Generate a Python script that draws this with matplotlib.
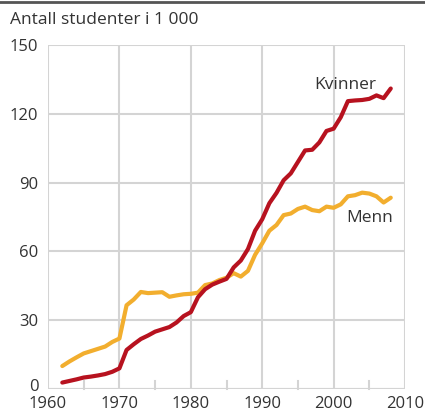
import numpy as np
import matplotlib.pyplot as plt
import matplotlib.transforms as mtransforms
from matplotlib.lines import Line2D

plt.rcParams['font.family'] = ['Open Sans', 'DejaVu Sans']

years = np.arange(1962, 2009)
kvinner = [2.8, 3.5, 4.2, 5.0, 5.4, 5.9, 6.5, 7.5, 9.0, 17.0,
           19.5, 21.8, 23.3, 25.0, 26.0, 27.0, 29.0, 31.8, 33.5, 40.0,
           43.5, 45.5, 46.8, 48.0, 53.0, 56.0, 61.0, 69.0, 74.0, 81.0,
           85.5, 91.0, 94.0, 99.0, 104.0, 104.3, 107.5, 112.5, 113.5, 118.5,
           125.5, 125.8, 126.0, 126.5, 128.0, 126.8, 131.0]
menn = [10.0, 12.0, 13.8, 15.5, 16.5, 17.5, 18.5, 20.5, 22.0, 36.5,
        39.0, 42.3, 41.8, 42.0, 42.2, 40.2, 40.8, 41.3, 41.5, 42.0,
        45.3, 46.0, 47.5, 48.5, 50.5, 49.0, 51.5, 58.5, 63.5, 69.0,
        71.5, 75.8, 76.5, 78.5, 79.5, 78.0, 77.5, 79.5, 79.0, 80.5,
        84.0, 84.5, 85.6, 85.2, 84.0, 81.3, 83.4]

xticks = [1960, 1970, 1980, 1990, 2000, 2010]
yticks = [0, 30, 60, 90, 120, 150]

fig = plt.figure(figsize=(4.25, 4.15), dpi=100)
ax = fig.add_axes([0.113, 0.0627, 0.840, 0.829])

grid_col = '#d4d4d4'
txt_col = '#333333'
ax.plot(years, menn, color='#f2ae2e', lw=3.0, solid_joinstyle='round', solid_capstyle='round', zorder=3)
ax.plot(years, kvinner, color='#b7121f', lw=3.0, solid_joinstyle='round', solid_capstyle='round', zorder=4)

ax.set_xlim(1960, 2010)
ax.set_ylim(0, 150)
ax.set_xticks(xticks)
ax.set_yticks(yticks)
ax.grid(True, color=grid_col, lw=1.5, zorder=0)
ax.set_axisbelow(True)
for s in ax.spines.values():
    s.set_visible(False)
ax.axhline(0, color=grid_col, lw=1.5, zorder=1)
ax.tick_params(length=0, labelsize=12, colors=txt_col)
ax.tick_params(axis='x', pad=5)
ax.tick_params(axis='y', pad=7)

# nudge the "0" label up a little so it clears "1960"
lab0 = ax.get_yticklabels()[0]
lab0.set_transform(lab0.get_transform() + mtransforms.ScaledTranslation(0, 3 / 72, fig.dpi_scale_trans))

# short ticks every 5 years along the bottom
for yr in range(1965, 2010, 10):
    ax.plot([yr, yr], [0, 3.5], color=grid_col, lw=1.5, zorder=1, clip_on=False)

ax.text(2006.0, 132.5, 'Kvinner', fontsize=12.5, color=txt_col, ha='right', va='center')
ax.text(2008.3, 74.5, 'Menn', fontsize=12.5, color=txt_col, ha='right', va='center')

fig.text(0.023, 0.952, 'Antall studenter i 1 000', fontsize=12.5, color=txt_col, va='center')
fig.add_artist(Line2D([0, 1], [0.995, 0.995], color='#555555', lw=2, transform=fig.transFigure))

fig.savefig('out.png', dpi=100)
